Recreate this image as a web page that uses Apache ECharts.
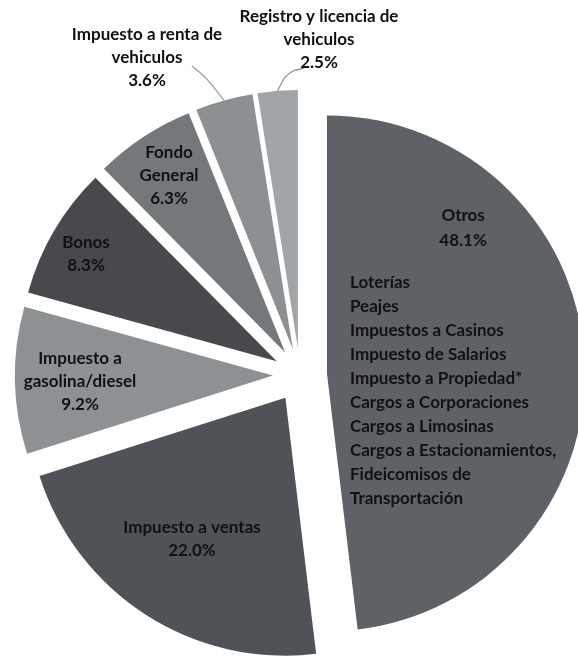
<!DOCTYPE html>
<html>
<head>
<meta charset="utf-8">
<script src="https://cdn.jsdelivr.net/npm/echarts@6/dist/echarts.min.js"></script>
<style>
html,body{margin:0;padding:0;background:#fff;}
#chart{width:578px;height:657px;}
</style>
</head>
<body>
<div id="chart"></div>
<script>
const categories = ['Otros', 'Impuesto a ventas', 'Impuesto a gasolina/diesel', 'Bonos', 'Fondo General', 'Impuesto a renta de vehiculos', 'Registro y licencia de vehiculos'];
const labelTexts = ['Otros', 'Impuesto a ventas', 'Impuesto a\ngasolina/diesel', 'Bonos', 'Fondo\nGeneral', 'Impuesto a renta de\nvehiculos', 'Registro y licencia de\nvehiculos'];
const values = [48.1, 22.0, 9.2, 8.3, 6.3, 3.6, 2.5];
const otrosItems = ['Loterías', 'Peajes', 'Impuestos a Casinos', 'Impuesto de Salarios', 'Impuesto a Propiedad*', 'Cargos a Corporaciones', 'Cargos a Limosinas', 'Cargos a Estacionamientos,', 'Fideicomisos de', 'Transportación'];

const colors = ['#5e6166', '#4f5257', '#8e9194', '#47494d', '#75787b', '#8d9093', '#a2a5a8'];
// label placement (centre of each text block; Otros is top-left); lineStart = leader start relative to label centre
const labelPos = [
  {x: 350, y: 203, align: 'left', verticalAlign: 'top'},
  {x: 192, y: 539},
  {x: 80, y: 382},
  {x: 86, y: 254},
  {x: 169, y: 176},
  {x: 147, y: 58, lineStart: [45, 8], lineMid: [60, 20]},
  {x: 319, y: 40, lineStart: [-15, 28], lineMid: [-32, 32]}
];

const CENTER = [300, 375];
const RADIUS = 258;
const OFFSET = 27;
const FONT = {color: '#111', fontFamily: 'Lato', fontWeight: 'bold', fontSize: 17};

const chart = echarts.init(document.getElementById('chart'), null, {renderer: 'canvas'});

// visible, exploded slices
const sliceData = categories.map((name, i) => ({
  name: name,
  value: values[i],
  selected: true,
  itemStyle: {color: colors[i]}
}));

// transparent twin series that only carries the labels
const labelData = categories.map((name, i) => {
  const pct = values[i].toFixed(1) + '%';
  const item = {name: name, value: values[i], itemStyle: {color: 'rgba(0,0,0,0)'}};
  if (i === 0) {
    item.label = {
      position: 'inside',
      formatter: '{h|' + labelTexts[0] + '}\n{h|' + pct + '}\n{s| }\n' + otrosItems.map(t => '{l|' + t + '}').join('\n'),
      rich: {
        h: Object.assign({align: 'center', lineHeight: 25, padding: [0, 0, 0, 20]}, FONT),
        s: {lineHeight: 18, fontSize: 10},
        l: Object.assign({align: 'left', lineHeight: 24}, FONT)
      }
    };
  } else if (i >= 5) {
    item.label = {position: 'outside', formatter: labelTexts[i] + '\n' + pct};
    item.labelLine = {show: true, length: 12, length2: 10, smooth: 0.35, lineStyle: {color: '#9a9a9a', width: 1.3}};
  } else {
    item.label = {position: 'inside', formatter: labelTexts[i] + '\n' + pct};
  }
  return item;
});

chart.setOption({
  animation: false,
  backgroundColor: '#fff',
  series: [{
    type: 'pie',
    center: CENTER,
    radius: RADIUS,
    startAngle: 90,
    clockwise: true,
    selectedMode: 'multiple',
    selectedOffset: OFFSET,
    emphasis: {disabled: true},
    label: {show: false},
    labelLine: {show: false},
    data: sliceData
  }, {
    type: 'pie',
    center: CENTER,
    radius: RADIUS + OFFSET,
    startAngle: 90,
    clockwise: true,
    silent: true,
    z: 5,
    avoidLabelOverlap: false,
    emphasis: {disabled: true},
    label: Object.assign({show: true, lineHeight: 23, align: 'center'}, FONT),
    labelLine: {show: false},
    labelLayout: function (params) {
      const p = labelPos[params.dataIndex];
      const res = {
        x: p.x,
        y: p.y,
        align: p.align || 'center',
        verticalAlign: p.verticalAlign || 'middle'
      };
      if (p.lineStart && params.labelLinePoints) {
        res.labelLinePoints = [
          [p.x + p.lineStart[0], p.y + p.lineStart[1]],
          [p.x + p.lineMid[0], p.y + p.lineMid[1]],
          params.labelLinePoints[0]
        ];
      }
      return res;
    },
    data: labelData
  }]
});
</script>
</body>
</html>
